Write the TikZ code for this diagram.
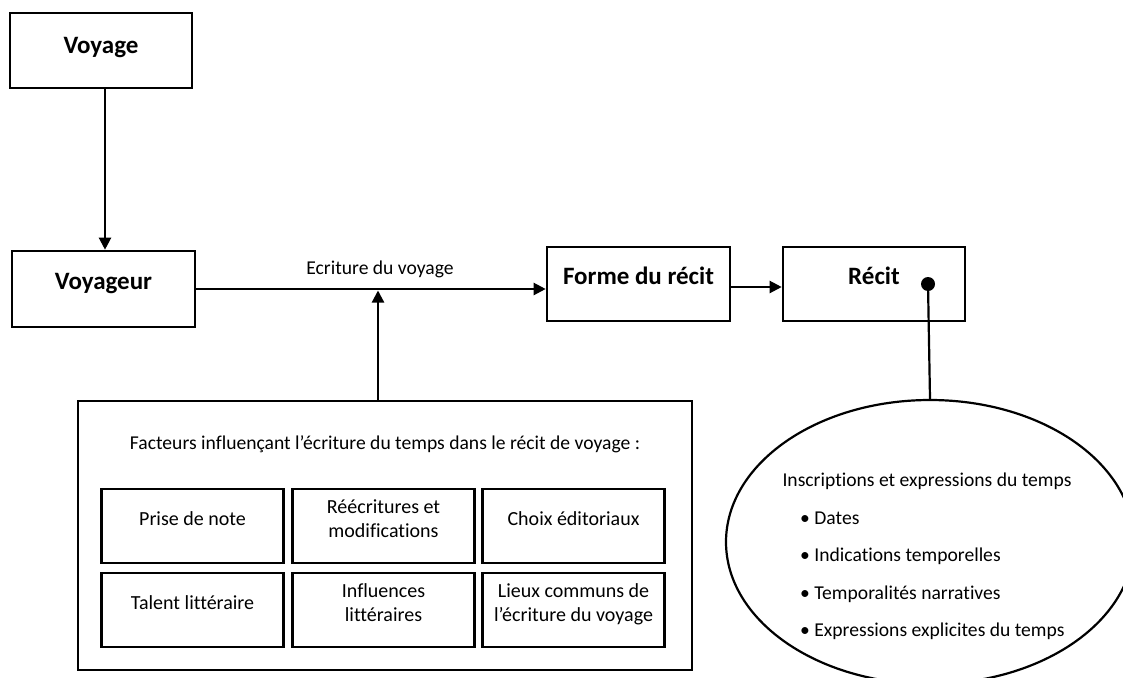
\documentclass[tikz,border=0pt]{standalone}
\usepackage{fontspec}
\setmainfont{Carlito}[Ligatures={NoCommon}]
\usetikzlibrary{arrows.meta,shapes.geometric}
\begin{document}
\begin{tikzpicture}[x=1pt,y=-1pt,
  headbox/.style={draw, line width=2.6pt, inner sep=0pt,
    font=\fontsize{25pt}{30pt}\selectfont\bfseries,
    text height=9pt, text depth=9pt},
  factbox/.style={draw, line width=2.8pt, inner sep=0pt,
    minimum width=182pt, minimum height=74pt, align=center,
    font=\fontsize{20pt}{24pt}\selectfont, text depth=15pt},
  arr/.style={line width=2.2pt, -{Triangle[length=12pt,width=12pt]}},
  plain/.style={font=\fontsize{19.6pt}{24pt}\selectfont, inner sep=0pt}
]
\useasboundingbox (0,0) rectangle (1123,677);
\clip (0,0) rectangle (1123,677);

% top boxes
\node[headbox, text height=12pt, text depth=6pt, minimum width=182pt, minimum height=75pt] (voyage) at (101,50.5) {Voyage};
\node[headbox, minimum width=183pt, minimum height=76pt] (voyageur) at (103.5,289) {Voyageur};
\node[headbox, minimum width=183pt, minimum height=74pt] (forme) at (638.5,284) {Forme du récit};
\node[headbox, minimum width=182pt, minimum height=74pt] (recit) at (874,284) {Récit};

% factors box
\node[draw, line width=2.6pt, inner sep=0pt, minimum width=614pt, minimum height=269pt] (facteurs) at (385,535.5) {};
\node[plain, anchor=base] (titre) at (385,449) {Facteurs influençant l’écriture du temps dans le récit de voyage :};

\node[factbox] (prise) at (192.5,526) {Prise de note};
\node[factbox] (reecr) at (383.5,526) {Réécritures et\\modifications};
\node[factbox] (choix) at (573.5,526) {Choix éditoriaux};
\node[factbox] (talent) at (192.5,610) {Talent littéraire};
\node[factbox] (influ) at (383.5,610) {Influences\\littéraires};
\node[factbox] (lieux) at (573.5,610) {Lieux communs de\\l’écriture du voyage};

% connectors
\coordinate (vx) at (105,0);
\draw[arr] (voyage.south -| vx) -- (voyageur.north -| vx);
\coordinate (junction) at (378,289);
\draw[arr] (voyageur.east) -- (voyageur.east -| forme.west);
\node[plain, anchor=base] (ecrit) at (380,274) {Ecriture du voyage};
\draw[arr] (facteurs.north -| junction) -- ([yshift=-1.5pt]junction);
\draw[arr] ([yshift=-3pt]forme.east) -- ([yshift=-3pt]recit.west);

% dot and ellipse
\node[circle, fill, inner sep=0pt, minimum size=14pt] (dot) at (928,284) {};
\node[ellipse, draw, line width=2.2pt, inner sep=0pt, minimum width=408pt, minimum height=284pt] (ell) at (930,542) {};
\draw[line width=2.2pt] (dot.center) -- (ell.north);

\node[plain, anchor=base] (insc) at (927,486) {Inscriptions et expressions du temps};
\node[plain, anchor=base west] (b1) at (800,524) {• Dates};
\node[plain, anchor=base west] (b2) at (800,561) {• Indications temporelles};
\node[plain, anchor=base west] (b3) at (800,599) {• Temporalités narratives};
\node[plain, anchor=base west] (b4) at (800,636) {• Expressions explicites du temps};
\end{tikzpicture}
\end{document}
